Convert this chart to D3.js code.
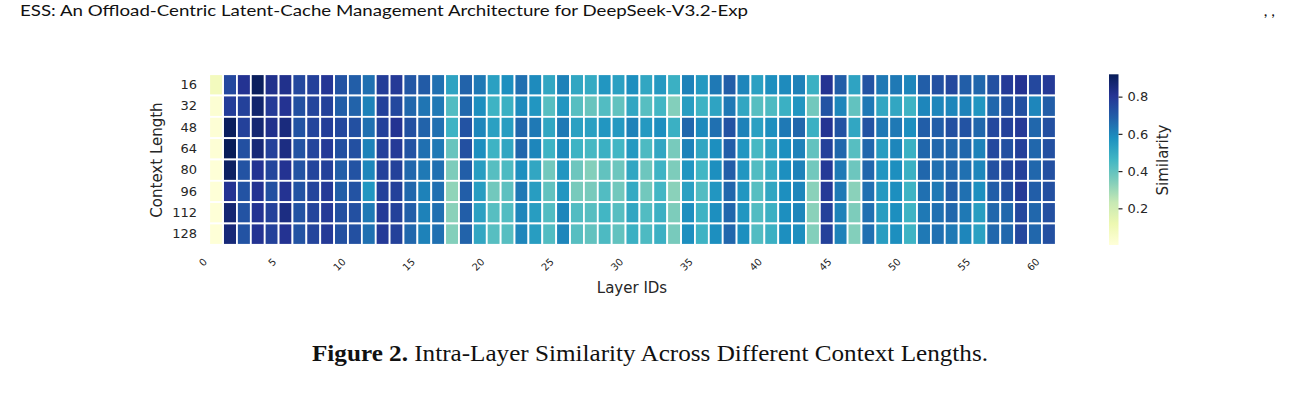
<!DOCTYPE html>
<html><head><meta charset="utf-8">
<script src="https://cdn.jsdelivr.net/npm/d3@7"></script>
<style>body{margin:0;background:#fff}svg{display:block}</style>
</head><body>
<svg id="chart" width="1300" height="415"></svg>
<script>
const contextLengths = [16, 32, 48, 64, 80, 96, 112, 128];
const layerIds = [0,1,2,3,4,5,6,7,8,9,10,11,12,13,14,15,16,17,18,19,20,21,22,23,24,25,26,27,28,29,30,31,32,33,34,35,36,37,38,39,40,41,42,43,44,45,46,47,48,49,50,51,52,53,54,55,56,57,58,59,60];
const xTickLabels = [0, 5, 10, 15, 20, 25, 30, 35, 40, 45, 50, 55, 60];
const cbarTicks = [0.2, 0.4, 0.6, 0.8];

const sim16  = [.08,.75,.81,.91,.82,.82,.75,.77,.80,.72,.69,.65,.78,.79,.71,.70,.65,.52,.68,.63,.53, .58,.65,.59,.51,.61,.51,.50,.56,.53,.58,.51,.55,.48,.61,.55,.63,.69,.60,.53,.58, .59,.61,.48,.81,.69,.52,.72,.63,.63,.60,.69,.73,.75,.69,.67,.73,.79,.81,.75,.79];
const sim32  = [.02,.78,.77,.88,.79,.81,.73,.76,.77,.69,.68,.61,.77,.75,.67,.64,.63,.43,.67,.58,.47, .48,.59,.56,.42,.56,.42,.39,.43,.40,.51,.42,.46,.34,.54,.47,.52,.63,.51,.42,.44, .48,.56,.37,.72,.60,.40,.63,.51,.51,.47,.60,.60,.60,.61,.56,.67,.73,.73,.60,.69];
const sim48  = [.015,.91,.77,.87,.82,.85,.72,.76,.78,.75,.73,.65,.77,.81,.73,.68,.65,.47,.72,.60,.53, .54,.67,.63,.51,.63,.53,.53,.56,.55,.61,.55,.58,.48,.67,.59,.65,.72,.61,.53,.58, .63,.67,.48,.81,.72,.51,.72,.63,.63,.58,.69,.69,.73,.72,.67,.75,.77,.79,.67,.73];
const sim64  = [.015,.92,.73,.86,.77,.84,.72,.76,.79,.73,.73,.61,.77,.79,.72,.65,.63,.39,.73,.58,.47, .51,.67,.60,.47,.59,.47,.45,.48,.46,.55,.44,.51,.36,.61,.51,.58,.69,.56,.45,.53, .58,.61,.40,.77,.67,.42,.67,.54,.60,.48,.67,.67,.67,.67,.61,.75,.73,.77,.67,.73];
const sim80  = [.008,.90,.72,.81,.76,.81,.72,.76,.77,.69,.72,.60,.77,.77,.67,.63,.65,.35,.69,.54,.42, .44,.58,.51,.37,.56,.38,.34,.40,.38,.51,.38,.47,.35,.56,.46,.58,.69,.56,.43,.50, .58,.61,.37,.79,.63,.38,.67,.56,.58,.48,.67,.65,.67,.65,.60,.73,.75,.77,.67,.73];
const sim96  = [.008,.81,.72,.81,.73,.81,.72,.76,.79,.69,.72,.56,.77,.77,.67,.61,.65,.32,.69,.54,.37, .41,.63,.54,.40,.56,.36,.36,.43,.37,.50,.37,.46,.33,.53,.43,.56,.67,.56,.42,.51, .58,.60,.33,.79,.63,.33,.65,.55,.58,.47,.65,.63,.69,.65,.58,.69,.73,.79,.69,.73];
const sim112 = [.008,.87,.72,.81,.77,.84,.72,.76,.79,.73,.73,.63,.79,.77,.69,.61,.65,.33,.69,.53,.42, .43,.60,.54,.43,.60,.43,.42,.46,.42,.51,.43,.48,.35,.58,.47,.58,.67,.56,.43,.48, .58,.60,.33,.77,.61,.35,.65,.54,.58,.47,.63,.65,.67,.63,.54,.67,.67,.75,.67,.73];
const sim128 = [.008,.86,.72,.81,.77,.81,.72,.76,.79,.73,.73,.65,.79,.77,.67,.61,.65,.34,.68,.51,.42, .42,.60,.54,.43,.60,.42,.40,.44,.40,.48,.44,.48,.36,.58,.47,.58,.67,.58,.43,.48, .58,.58,.34,.77,.61,.34,.65,.54,.58,.47,.63,.65,.63,.60,.53,.67,.67,.75,.67,.73];
const simRows = [sim16, sim32, sim48, sim64, sim80, sim96, sim112, sim128];

const vmin = 0.003, vmax = 0.92;
const ylgnbu = ['#ffffd9','#edf8b1','#c7e9b4','#7fcdbb','#41b6c4','#1d91c0','#225ea8','#253494','#081d58'];

const svg = d3.select('#chart');
const textCol = '#262626';

// header
svg.append('text').attr('x', 20).attr('y', 16)
  .attr('font-family', 'Lato, "Open Sans", sans-serif').attr('font-size', 16)
  .attr('fill', '#111').attr('textLength', 728).attr('lengthAdjust', 'spacingAndGlyphs')
  .text('ESS: An Offload-Centric Latent-Cache Management Architecture for DeepSeek-V3.2-Exp');
svg.append('text').attr('x', 1275).attr('y', 16).attr('text-anchor', 'end')
  .attr('font-family', 'Lato, sans-serif').attr('font-size', 16).attr('fill', '#111').text(', ,');

const color = d3.scaleLinear()
  .domain(ylgnbu.map((c, i) => vmin + (vmax - vmin) * i / (ylgnbu.length - 1)))
  .range(ylgnbu).interpolate(d3.interpolateRgb).clamp(true);

const x = d3.scaleBand().domain(layerIds).range([209.2, 1055.8]).padding(0);
const y = d3.scaleBand().domain(contextLengths).range([74.2, 244.8]).padding(0);

const cells = [];
contextLengths.forEach((c, r) => layerIds.forEach((l, i) => cells.push({c, l, v: simRows[r][i]})));

svg.append('g').selectAll('rect').data(cells).join('rect')
  .attr('x', d => x(d.l)).attr('y', d => y(d.c))
  .attr('width', x.bandwidth()).attr('height', y.bandwidth())
  .attr('fill', d => color(d.v)).attr('stroke', '#fff').attr('stroke-width', 1.8);

// y axis labels
const yAxis = svg.append('g').attr('transform', 'translate(209,0)')
  .call(d3.axisLeft(y).tickSize(0).tickPadding(12));
yAxis.select('.domain').remove();
yAxis.selectAll('text').attr('font-family', '"DejaVu Sans", sans-serif').attr('font-size', 13).attr('fill', textCol);

// x axis labels
const xAxis = svg.append('g').attr('transform', 'translate(0,245)')
  .call(d3.axisBottom(x).tickValues(xTickLabels).tickSize(0));
xAxis.select('.domain').remove();
xAxis.selectAll('text')
  .attr('font-family', '"DejaVu Sans", sans-serif').attr('font-size', 10).attr('fill', textCol)
  .attr('text-anchor', 'end').attr('dy', 0).attr('y', 0)
  .attr('transform', 'translate(-8.5,17.5) rotate(-45)');

svg.append('text').attr('transform', 'translate(162,160) rotate(-90)').attr('text-anchor', 'middle')
  .attr('font-family', '"DejaVu Sans", sans-serif').attr('font-size', 15).attr('fill', textCol).text('Context Length');
svg.append('text').attr('x', 632).attr('y', 293).attr('text-anchor', 'middle')
  .attr('font-family', '"DejaVu Sans", sans-serif').attr('font-size', 15).attr('fill', textCol).text('Layer IDs');

// colorbar
const cb = d3.scaleLinear().domain([vmin, vmax]).range([245, 74.3]);
const defs = svg.append('defs');
const grad = defs.append('linearGradient').attr('id', 'cbg').attr('x1', 0).attr('y1', 1).attr('x2', 0).attr('y2', 0);
ylgnbu.forEach((c, i) => grad.append('stop').attr('offset', i / (ylgnbu.length - 1)).attr('stop-color', c));
svg.append('rect').attr('x', 1109).attr('y', cb(vmax)).attr('width', 9.5).attr('height', cb(vmin) - cb(vmax)).attr('fill', 'url(#cbg)');
const cbAxis = svg.append('g').attr('transform', 'translate(1118.5,0)')
  .call(d3.axisRight(cb).tickValues(cbarTicks).tickFormat(d3.format('.1f')).tickSize(4).tickPadding(5));
cbAxis.select('.domain').remove();
cbAxis.selectAll('line').attr('stroke', textCol).attr('stroke-width', 1.2);
cbAxis.selectAll('text').attr('font-family', '"DejaVu Sans", sans-serif').attr('font-size', 13).attr('fill', textCol);
svg.append('text').attr('transform', 'translate(1168,160) rotate(-90)').attr('text-anchor', 'middle')
  .attr('font-family', '"DejaVu Sans", sans-serif').attr('font-size', 15).attr('fill', textCol).text('Similarity');

// caption
const cap = svg.append('text').attr('x', 312).attr('y', 361)
  .attr('font-family', '"Liberation Serif", "DejaVu Serif", serif').attr('font-size', 23.5).attr('fill', '#111')
  .attr('textLength', 676).attr('lengthAdjust', 'spacingAndGlyphs');
cap.append('tspan').attr('font-weight', 'bold').text('Figure 2.');
cap.append('tspan').text(' Intra-Layer Similarity Across Different Context Lengths.');
</script>
</body></html>
